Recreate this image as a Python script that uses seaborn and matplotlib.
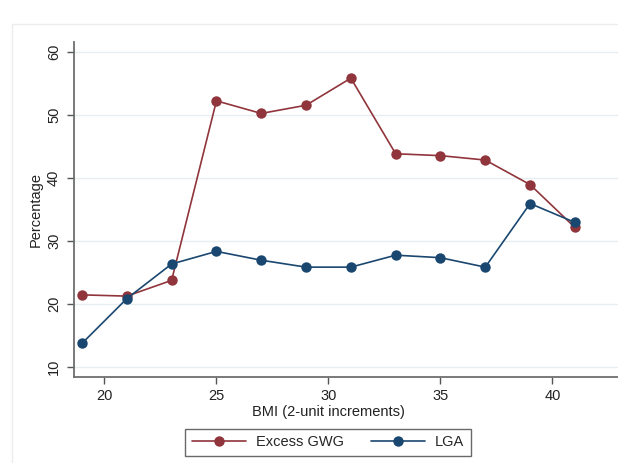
import matplotlib
matplotlib.use("Agg")
import matplotlib.pyplot as plt
import seaborn as sns
import pandas as pd
from matplotlib.patches import Rectangle

# BMI categories (2-unit increments)
bmi = [19, 21, 23, 25, 27, 29, 31, 33, 35, 37, 39, 41]
# Percentage with excess gestational weight gain
excess_gwg = [21.4, 21.2, 23.7, 52.2, 50.2, 51.5, 55.8, 43.8, 43.5, 42.8, 38.9, 32.1]
# Percentage large for gestational age
lga = [13.7, 20.8, 26.3, 28.3, 26.9, 25.8, 25.8, 27.7, 27.3, 25.8, 35.9, 32.9]

x_ticks = [20, 25, 30, 35, 40]
y_ticks = [10, 20, 30, 40, 50, 60]
series_names = ["Excess GWG", "LGA"]
colors = {"Excess GWG": "#90353b", "LGA": "#1a476f"}

df = pd.concat([
    pd.DataFrame({"BMI": bmi, "Percentage": excess_gwg, "Outcome": series_names[0]}),
    pd.DataFrame({"BMI": bmi, "Percentage": lga, "Outcome": series_names[1]}),
])

sns.set_style("white")
plt.rcParams["font.family"] = ["Liberation Sans", "DejaVu Sans"]

W, H = 618, 463
FS = 10.5
fig = plt.figure(figsize=(W / 100, H / 100), dpi=100)
fig.patch.set_facecolor("white")

# faint outer graph frame
fig.add_artist(Rectangle((12 / W, -0.1), 1.2, (H - 24) / H + 0.1,
                         transform=fig.transFigure, fill=False,
                         edgecolor="#ececec", linewidth=1.0))

ax_left = 73.5 / W
ax_width = 1 - ax_left + 0.01
ax = fig.add_axes([ax_left, 1 - 376.5 / H, ax_width, (376.5 - 42) / H])

sns.lineplot(data=df, x="BMI", y="Percentage", hue="Outcome",
             hue_order=series_names, palette=colors, marker="o",
             markersize=7.5, markeredgewidth=0, linewidth=1.2, ax=ax,
             legend=False, zorder=3)

ax.set_xlim(18.62, 43.2)
ax.set_ylim(8.44, 61.54)
ax.set_xticks(x_ticks)
ax.set_yticks(y_ticks)
ax.set_yticklabels([str(v) for v in y_ticks], rotation=90, va="center")
ax.tick_params(axis="both", which="major", direction="out", length=5,
               width=1, color="#555555", labelsize=FS, labelcolor="#222222",
               pad=4, left=True, bottom=True)
ax.grid(axis="y", color="#e6eef0", linewidth=1.0, zorder=0)
ax.grid(axis="x", visible=False)
for side in ["top", "right"]:
    ax.spines[side].set_visible(False)
for side in ["left", "bottom"]:
    ax.spines[side].set_color("#6e6e6e")
    ax.spines[side].set_linewidth(1.3)

ax.set_xlabel("BMI (2-unit increments)", fontsize=FS, color="#222222")
ax.xaxis.set_label_coords((328 - 73.5) / (ax_width * W), -0.085)
ax.set_ylabel("Percentage", fontsize=FS, color="#222222", labelpad=3)

handles = [plt.Line2D([], [], color=colors[n], marker="o", markersize=7.5,
                      markeredgewidth=0, linewidth=1.2) for n in series_names]
leg = fig.legend(handles, series_names, loc="center",
                 bbox_to_anchor=(328 / W, 1 - 442.5 / H), ncol=2,
                 frameon=True, fancybox=False, fontsize=FS,
                 handlelength=3.7, columnspacing=1.85, handletextpad=0.7,
                 borderpad=0.45, borderaxespad=0)
leg.get_frame().set_edgecolor("#444444")
leg.get_frame().set_linewidth(1.0)

fig.savefig("out.png", dpi=100, facecolor="white")
